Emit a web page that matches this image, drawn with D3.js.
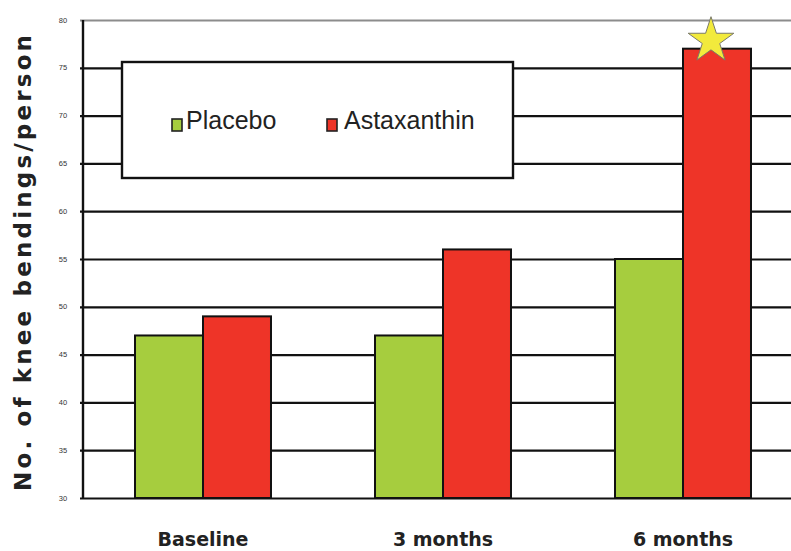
<!DOCTYPE html>
<html>
<head>
<meta charset="utf-8">
<script src="https://cdn.jsdelivr.net/npm/d3@7"></script>
<style>
  html, body { margin: 0; padding: 0; background: #fff; }
  svg { display: block; }
</style>
</head>
<body>
<svg id="chart" width="791" height="551"></svg>
<script>
// Knee bendings per person, by visit and treatment group
const categories = ["Baseline", "3 months", "6 months"];
const seriesNames = ["Placebo", "Astaxanthin"];
const placebo = [47, 47, 55];
const astaxanthin = [49, 56, 77];
const yTicks = [30, 35, 40, 45, 50, 55, 60, 65, 70, 75, 80];
const yTitle = "No. of knee bendings/person";
const significant = [false, false, true]; // star marks the Astaxanthin bar

const colors = { "Placebo": "#a6cd3e", "Astaxanthin": "#ee3428" };
const values = { "Placebo": placebo, "Astaxanthin": astaxanthin };

const svg = d3.select("#chart");
const plot = { left: 83, right: 803, top: 20, bottom: 498 };

const x0 = d3.scaleBand().domain(categories).range([plot.left, plot.right]);
const groupInset = x0.bandwidth() * 0.2167;
const x1 = d3.scaleBand().domain(seriesNames)
  .range([groupInset, x0.bandwidth() - groupInset]);
const y = d3.scaleLinear().domain([30, 80]).range([plot.bottom, plot.top]);

// horizontal grid lines
const grid = svg.append("g")
  .attr("transform", `translate(${plot.left},0)`)
  .call(d3.axisLeft(y).tickValues(yTicks).tickSize(-(791 - plot.left)).tickSizeOuter(0).tickFormat(""))
  .call(g => g.select(".domain").remove());
grid.selectAll(".tick line")
  .attr("x1", -3)
  .attr("stroke", d => d === 80 ? "#8c8c8c" : "#111")
  .attr("stroke-width", 2.2);

// tiny tick labels
svg.append("g").selectAll("text").data(yTicks).join("text")
  .attr("x", 63).attr("y", d => y(d)).attr("dy", "0.35em")
  .attr("text-anchor", "middle")
  .attr("font-family", "Liberation Sans Narrow, Liberation Sans, Arial, sans-serif")
  .attr("font-size", 7.5).attr("fill", "#333")
  .text(d => d);

// legend box
const legend = svg.append("g");
legend.append("rect")
  .attr("x", 122).attr("y", 62).attr("width", 391).attr("height", 116)
  .attr("fill", "#fff").attr("stroke", "#111").attr("stroke-width", 2.4);
const legendItems = [
  { name: "Placebo", sx: 172, tx: 186 },
  { name: "Astaxanthin", sx: 327, tx: 344 }
];
legendItems.forEach(it => {
  legend.append("rect")
    .attr("x", it.sx).attr("y", 119).attr("width", 10).attr("height", 12)
    .attr("fill", colors[it.name]).attr("stroke", "#222").attr("stroke-width", 1.6);
  legend.append("text")
    .attr("x", it.tx).attr("y", 129)
    .attr("font-family", "Liberation Sans Narrow, Liberation Sans, Arial, sans-serif")
    .attr("font-size", 25).attr("fill", "#222")
    .text(it.name);
});

// bars
const groups = svg.append("g").selectAll("g").data(categories).join("g")
  .attr("transform", d => `translate(${x0(d)},0)`);
groups.selectAll("rect")
  .data((d, i) => seriesNames.map(s => ({ s, v: values[s][i] })))
  .join("rect")
  .attr("x", d => x1(d.s))
  .attr("y", d => y(d.v))
  .attr("width", x1.bandwidth())
  .attr("height", d => y(30) - y(d.v))
  .attr("fill", d => colors[d.s])
  .attr("stroke", "#111").attr("stroke-width", 2);

// y axis line
svg.append("line")
  .attr("x1", plot.left).attr("x2", plot.left)
  .attr("y1", y(80)).attr("y2", y(30))
  .attr("stroke", "#111").attr("stroke-width", 2.4);

// significance star
const star = d3.symbol().type(d3.symbolStar).size(24 * 24 / 0.8908130915292852);
categories.forEach((c, i) => {
  if (!significant[i]) return;
  const cx = x0(c) + x1("Astaxanthin") + x1.bandwidth() / 2 - 6;
  svg.append("path")
    .attr("d", star())
    .attr("transform", `translate(${cx},${y(astaxanthin[i]) - 8})`)
    .attr("fill", "#f2ea3c").attr("stroke", "#7a7a6a").attr("stroke-width", 1);
});

// category labels
svg.append("g").selectAll("text").data(categories).join("text")
  .attr("x", d => x0(d) + x0.bandwidth() / 2)
  .attr("y", 546)
  .attr("text-anchor", "middle")
  .attr("font-family", "DejaVu Sans, Liberation Sans, Arial, sans-serif")
  .attr("font-weight", "bold").attr("font-size", 19).attr("fill", "#222")
  .text(d => d);

// y title
svg.append("text")
  .attr("transform", "translate(31,263) rotate(-90)")
  .attr("text-anchor", "middle")
  .attr("font-family", "DejaVu Sans, Liberation Sans, Arial, sans-serif")
  .attr("font-weight", "bold").attr("font-size", 23).attr("fill", "#222")
  .attr("textLength", 456).attr("lengthAdjust", "spacing")
  .text(yTitle);
</script>
</body>
</html>
